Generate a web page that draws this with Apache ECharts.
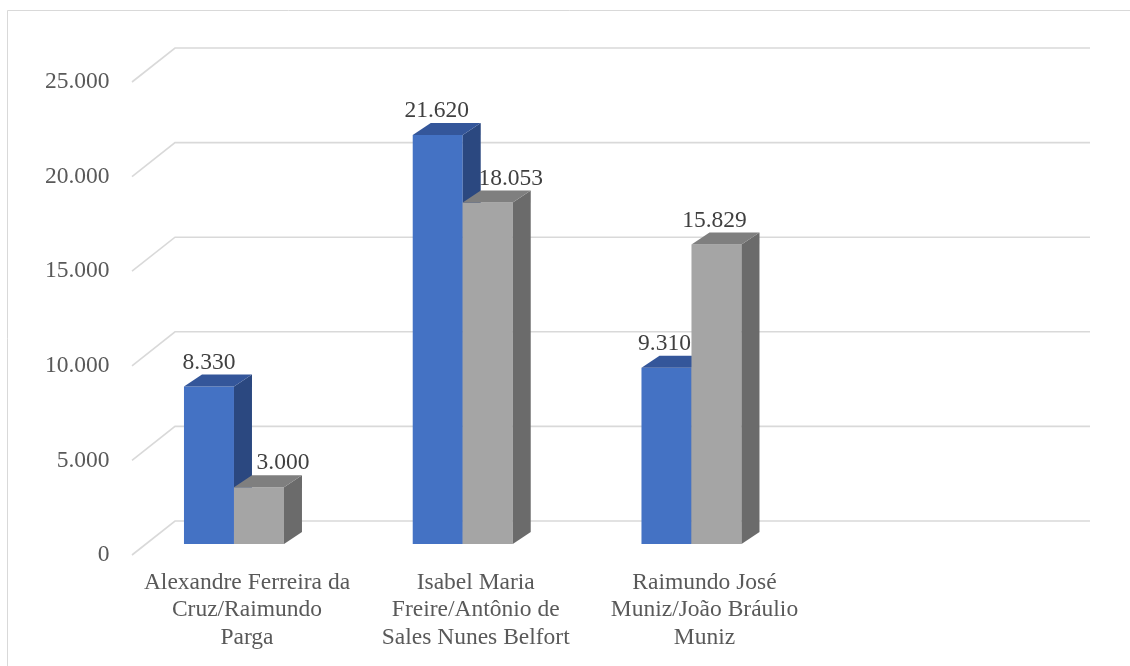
<!DOCTYPE html>
<html>
<head>
<meta charset="utf-8">
<script src="https://cdn.jsdelivr.net/npm/echarts@6/dist/echarts.min.js"></script>
<style>
html,body{margin:0;padding:0;background:#fff;}
#chart{width:1130px;height:666px;}
</style>
</head>
<body>
<div id="chart"></div>
<script>
// ---- data ----
const categories = [
  'Alexandre Ferreira da\nCruz/Raimundo\nParga',
  'Isabel Maria\nFreire/Antônio de\nSales Nunes Belfort',
  'Raimundo José\nMuniz/João Bráulio\nMuniz',
  ''
];
const seriesBlue = [8330, 21620, 9310];
const seriesGray = [3000, 18053, 15829];
const yTicks = [0, 5000, 10000, 15000, 20000, 25000];

// ---- styling ----
const FONT = "'Liberation Serif', 'Times New Roman', serif";
const labelShiftBlue = [0, -1, -2];
const labelShiftGray = [24, 23, -2];

function fmt(v) {
  return String(Math.round(v)).replace(/\B(?=(\d{3})+(?!\d))/g, '.');
}

function barRenderer(side, colors, shifts) {
  return function (params, api) {
    const idx = api.value(0);
    const v = api.value(1);
    const base = api.coord([idx, 0]);
    const top = api.coord([idx, v]);
    const w = 50, dx = 18, dy = -12;
    const x0 = side === 0 ? base[0] - w : base[0];
    const x1 = x0 + w;
    const yb = base[1], yt = top[1];
    return {
      type: 'group',
      children: [
        { type: 'polygon', shape: { points: [[x0, yt], [x1, yt], [x1, yb], [x0, yb]] }, style: { fill: colors[0] } },
        { type: 'polygon', shape: { points: [[x1, yt], [x1 + dx, yt + dy], [x1 + dx, yb + dy], [x1, yb]] }, style: { fill: colors[2] } },
        { type: 'polygon', shape: { points: [[x0, yt], [x0 + dx, yt + dy], [x1 + dx, yt + dy], [x1, yt]] }, style: { fill: colors[1] } },
        { type: 'text', style: { x: (x0 + x1) / 2 + shifts[idx], y: yt - 24, text: fmt(v), fill: '#404040',
            font: '23.5px ' + FONT, align: 'center', verticalAlign: 'middle' } }
      ]
    };
  };
}

const chart = echarts.init(document.getElementById('chart'), null, { renderer: 'canvas' });
chart.setOption({
  animation: false,
  backgroundColor: '#ffffff',
  graphic: [{
    type: 'rect', silent: true, z: -10,
    shape: { x: 7.5, y: 10.5, width: 1300, height: 800 },
    style: { fill: 'none', stroke: '#d9d9d9', lineWidth: 1 }
  }],
  grid: [
    { left: 119.6, right: 95.4, top: 71, bottom: 122, containLabel: false },
    { left: 119.6, right: 95.4, top: 82, bottom: 111, containLabel: false }
  ],
  xAxis: [{
    type: 'category',
    gridIndex: 0,
    data: categories,
    axisLine: { show: false },
    axisTick: { show: false },
    splitLine: { show: false },
    axisLabel: {
      interval: 0, color: '#595959', fontSize: 23.5, lineHeight: 27.5,
      fontFamily: FONT, margin: 25, padding: [0, 0, 0, 26]
    }
  }, {
    type: 'category', gridIndex: 1, data: categories, show: false
  }],
  yAxis: [{
    type: 'value', gridIndex: 0, min: 0, max: 25000, interval: 5000,
    axisLine: { show: false }, axisTick: { show: false }, splitLine: { show: false },
    axisLabel: { show: false }
  }, {
    type: 'value', gridIndex: 1, min: 0, max: 25000, interval: 5000,
    axisLine: { show: false }, axisTick: { show: false }, splitLine: { show: false },
    axisLabel: {
      formatter: fmt, color: '#595959', fontSize: 23.5, fontFamily: FONT, margin: 10
    }
  }],
  series: [
    {
      type: 'custom', name: 'grade', z: 1, clip: false, silent: true,
      xAxisIndex: 0, yAxisIndex: 0,
      data: yTicks.map(v => [0, v]),
      encode: { x: 0, y: 1 },
      renderItem: function (params, api) {
        const cs = params.coordSys;
        const p = api.coord([0, api.value(1)]);
        const yb = p[1];
        return {
          type: 'polyline',
          shape: { points: [[cs.x + 12.4, yb + 11], [cs.x + 55.4, yb - 23], [cs.x + cs.width + 55.4, yb - 23]] },
          style: { stroke: '#d9d9d9', lineWidth: 1.6, fill: null }
        };
      }
    },
    {
      type: 'custom', name: 'Série 1', z: 2, clip: false,
      xAxisIndex: 0, yAxisIndex: 0,
      data: seriesBlue.map((v, i) => [i, v]),
      encode: { x: 0, y: 1 },
      renderItem: barRenderer(0, ['#4472C4', '#34569A', '#2B4880'], labelShiftBlue)
    },
    {
      type: 'custom', name: 'Série 2', z: 3, clip: false,
      xAxisIndex: 0, yAxisIndex: 0,
      data: seriesGray.map((v, i) => [i, v]),
      encode: { x: 0, y: 1 },
      renderItem: barRenderer(1, ['#A5A5A5', '#7F7F7F', '#6B6B6B'], labelShiftGray)
    }
  ]
});
</script>
</body>
</html>
